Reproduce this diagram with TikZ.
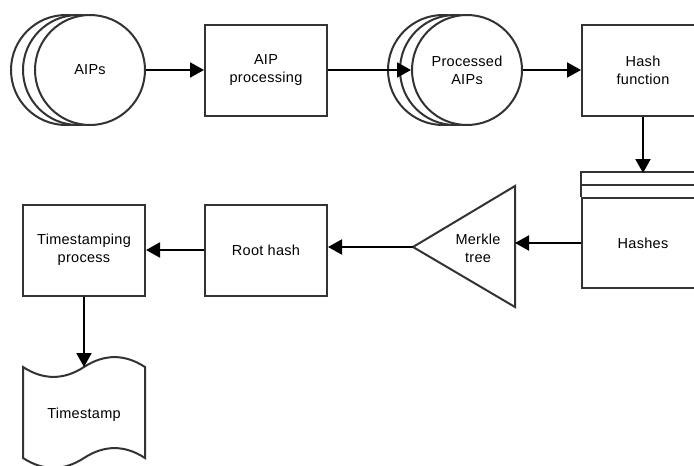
\documentclass[tikz,border=0pt]{standalone}
\usepackage{fontspec}
\setmainfont[LetterSpace=2]{Liberation Sans}
\usetikzlibrary{arrows.meta,shapes.geometric}
\definecolor{shapecol}{HTML}{333333}
\newcommand\diaglbl{\fontsize{14.5}{18}\selectfont}
\begin{document}
\begin{tikzpicture}[x=1pt,y=-1pt,
  box/.style={draw=shapecol,line width=2pt,fill=white,minimum width=122pt,minimum height=91pt,inner sep=0pt,align=center,font=\diaglbl},
  ell/.style={ellipse,draw=shapecol,line width=2pt,fill=white,minimum width=110pt,minimum height=110pt,inner sep=0pt,align=center,font=\diaglbl},
  lbl/.style={inner sep=0pt,align=center,font=\diaglbl},
  arr/.style={draw=black,line width=2pt,-{Triangle[length=14pt,width=15pt]}}]
\useasboundingbox (0,0) rectangle (694,466);
\clip (0,0) rectangle (694,466);
\fill[white] (0,0) rectangle (694,466);
% AIPs
\node[ell] (aips3) at (66,70) {};
\node[ell] (aips2) at (78,70) {};
\node[ell] (aips) at (90,70) {AIPs};
% AIP processing
\node[box] (proc) at (266,70) {AIP\\processing};
% Processed AIPs
\node[ell] (paips3) at (443,70) {};
\node[ell] (paips2) at (455,70) {};
\node[ell] (paips) at (467,70) {Processed\\AIPs};
% Hash function
\node[box] (hashf) at (643,70) {Hash\\function};
% Hashes
\node[box,minimum height=90pt] (hashes) at (643,243) {Hashes};
\draw[draw=shapecol,line width=2pt] (hashes.north west) -- ++(0,-25) -- ++(124,0);
\draw[draw=shapecol,line width=2pt] (hashes.north west) ++(0,-12.5) -- +(124,0);
\coordinate (hashesTop) at (643,173);
% Merkle tree
\coordinate (mApex) at (413,247);
\coordinate (mTop) at (515,186);
\coordinate (mBot) at (515,307);
\draw[draw=shapecol,line width=2pt,fill=white,line join=miter] (mApex) -- (mTop) -- (mBot) -- cycle;
\node[lbl] (merkle) at (478,248) {Merkle\\tree};
% Root hash
\node[box] (root) at (266,250) {Root hash};
% Timestamping process
\node[box] (tsp) at (84,250) {Timestamping\\process};
% Timestamp tape
\coordinate (tsTop) at (84,367);
\draw[draw=shapecol,line width=2pt,fill=white]
  (23,367) .. controls (43.33,380.2) and (63.67,380.2) .. (tsTop)
  .. controls (104.33,353.8) and (124.67,353.8) .. (145,367)
  -- (145,458)
  .. controls (124.67,444.8) and (104.33,444.8) .. (84,458)
  .. controls (63.67,471.2) and (43.33,471.2) .. (23,458) -- cycle;
\node[lbl] (tstamp) at (84,415) {Timestamp};
% connectors
\draw[arr] (aips.east) -- (proc.west);
\draw[arr] (proc.east) -- (paips.west);
\draw[arr] (paips.east) -- (hashf.west);
\draw[arr] (hashf.south) -- (hashesTop);
\draw[arr] (hashes.west) -- (hashes.west -| mTop);
\draw[arr] (mApex) -- (mApex -| root.east);
\draw[arr] (root.west) -- (tsp.east);
\draw[arr] (tsp.south) -- (tsTop);
\end{tikzpicture}
\end{document}
